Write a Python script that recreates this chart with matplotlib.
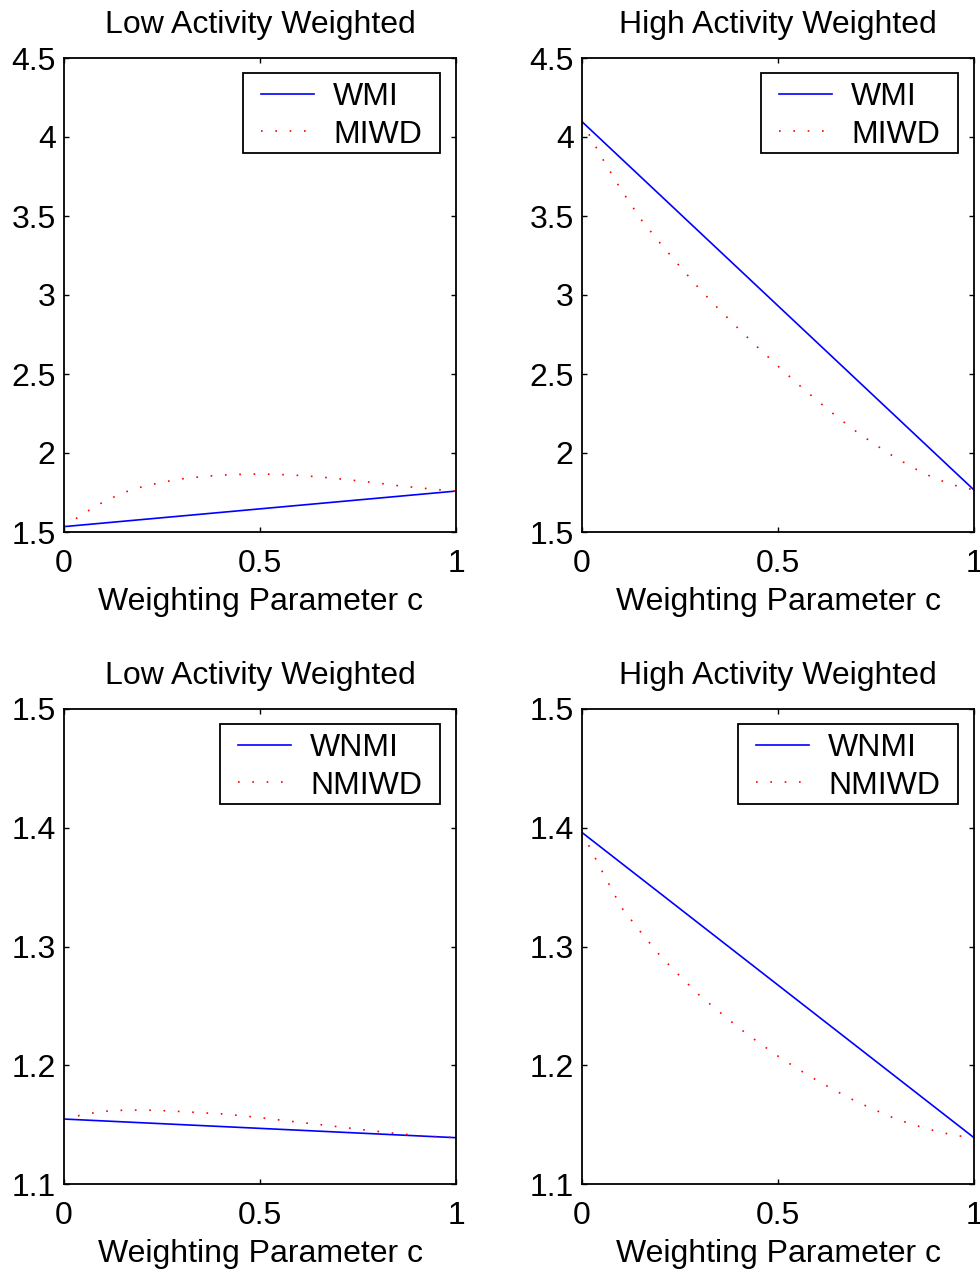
import numpy as np
import matplotlib
matplotlib.use("Agg")
import matplotlib.pyplot as plt
from matplotlib.patches import Rectangle

plt.rcParams['font.family'] = ['Liberation Sans', 'DejaVu Sans']

# weighting parameter grid
c = np.linspace(0.0, 1.0, 21)

# mutual information (top row)
wmi_low = [1.534, 1.759]
miwd_low = [1.534, 1.617, 1.690, 1.748, 1.787, 1.815, 1.836, 1.850, 1.860, 1.865, 1.867,
            1.864, 1.858, 1.849, 1.837, 1.824, 1.810, 1.794, 1.781, 1.769, 1.759]
wmi_high = [4.097, 1.766]
miwd_high = [4.097, 3.872, 3.666, 3.480, 3.326, 3.180, 3.038, 2.908, 2.785, 2.665, 2.550,
             2.438, 2.332, 2.230, 2.135, 2.050, 1.970, 1.900, 1.839, 1.796, 1.766]

# normalized mutual information (bottom row)
wnmi_low = [1.1547, 1.1390]
nmiwd_low = [1.1547, 1.1585, 1.1612, 1.1621, 1.1623, 1.1618, 1.1610, 1.1600, 1.1591, 1.1576,
             1.1559, 1.1539, 1.1520, 1.1501, 1.1482, 1.1462, 1.1443, 1.1425, 1.1409, 1.1398, 1.1390]
wnmi_high = [1.396, 1.139]
nmiwd_high = [1.396, 1.3642, 1.3331, 1.3121, 1.2920, 1.2750, 1.2588, 1.2451, 1.2315, 1.2193,
              1.2077, 1.1970, 1.1871, 1.1780, 1.1694, 1.1620, 1.1549, 1.1494, 1.1448, 1.1410, 1.1390]

titles = ["Low Activity Weighted", "High Activity Weighted"]
xlabel = "Weighting Parameter c"
xticks = [0, 0.5, 1]
xticklabels = ["0", "0.5", "1"]
yticks_top = [1.5, 2, 2.5, 3, 3.5, 4, 4.5]
yticklabels_top = ["1.5", "2", "2.5", "3", "3.5", "4", "4.5"]
yticks_bot = [1.1, 1.2, 1.3, 1.4, 1.5]
yticklabels_bot = ["1.1", "1.2", "1.3", "1.4", "1.5"]

FS = 23
fig = plt.figure(figsize=(9.8, 12.7), dpi=100)

W, H = 980, 1270
def axes_px(left, top, right, bottom):
    return fig.add_axes([left / W, (H - bottom) / H, (right - left) / W, (bottom - top) / H])

panels = [
    (axes_px(64, 58, 456, 532), titles[0], wmi_low, miwd_low, ("WMI", "MIWD"),
     (1.5, 4.5), yticks_top, yticklabels_top),
    (axes_px(582, 58, 974, 532), titles[1], wmi_high, miwd_high, ("WMI", "MIWD"),
     (1.5, 4.5), yticks_top, yticklabels_top),
    (axes_px(64, 709, 456, 1184), titles[0], wnmi_low, nmiwd_low, ("WNMI", "NMIWD"),
     (1.1, 1.5), yticks_bot, yticklabels_bot),
    (axes_px(582, 709, 974, 1184), titles[1], wnmi_high, nmiwd_high, ("WNMI", "NMIWD"),
     (1.1, 1.5), yticks_bot, yticklabels_bot),
]

# legend box geometry (pixels): gap to axes edge, inner padding, box height
BOX_GAP_RIGHT, BOX_GAP_TOP = 16, 15
PAD_X, BOX_H = 18, 80
TEXT_DROP = 3

legends = []
for ax, title, solid, dotted, names, ylim, yt, ytl in panels:
    ax.plot([0, 1], solid, color="blue", lw=1.2, label=names[0])
    ax.plot(c, dotted, color="red", lw=1.2, linestyle=(0, (1, 7.6)), label=names[1])
    ax.set_xlim(0, 1)
    ax.set_ylim(*ylim)
    ax.set_xticks(xticks)
    ax.set_xticklabels(xticklabels)
    ax.set_yticks(yt)
    ax.set_yticklabels(ytl)
    ax.tick_params(direction="in", length=3.5, width=1.0, top=True, right=True,
                   labelsize=FS)
    ax.tick_params(axis="x", pad=12.5)
    ax.tick_params(axis="y", pad=6)
    for s in ax.spines.values():
        s.set_linewidth(1.3)
    ax.set_title(title, fontsize=FS, pad=18)
    ax.set_xlabel(xlabel, fontsize=FS, labelpad=5.5)
    leg = ax.legend(loc="upper right", fontsize=FS, frameon=False, borderpad=0,
                    borderaxespad=0, handlelength=1.66, handletextpad=0.6,
                    labelspacing=0.23)
    leg.set_zorder(6)
    legends.append((ax, leg))

# place each legend inside a square box with wider side padding
fig.canvas.draw()
for ax, leg in legends:
    ab = ax.get_window_extent()
    eb = leg.get_window_extent()
    right = ab.x1 - BOX_GAP_RIGHT - PAD_X
    top = ab.y1 - BOX_GAP_TOP - (BOX_H - eb.height) / 2 - TEXT_DROP
    ax_right, ax_top = ax.transAxes.inverted().transform((right, top))
    leg.set_bbox_to_anchor((ax_right, ax_top), transform=ax.transAxes)

fig.canvas.draw()
for ax, leg in legends:
    ab = ax.get_window_extent()
    eb = leg.get_window_extent()
    x0 = eb.x0 - PAD_X
    x1 = ab.x1 - BOX_GAP_RIGHT
    y1 = ab.y1 - BOX_GAP_TOP
    y0 = y1 - BOX_H
    inv = ax.transAxes.inverted()
    (ax0, ay0), (ax1, ay1) = inv.transform([(x0, y0), (x1, y1)])
    ax.add_patch(Rectangle((ax0, ay0), ax1 - ax0, ay1 - ay0, transform=ax.transAxes,
                           facecolor="white", edgecolor="black", lw=1.3,
                           zorder=5, clip_on=False))

fig.savefig("out.png", dpi=100)
